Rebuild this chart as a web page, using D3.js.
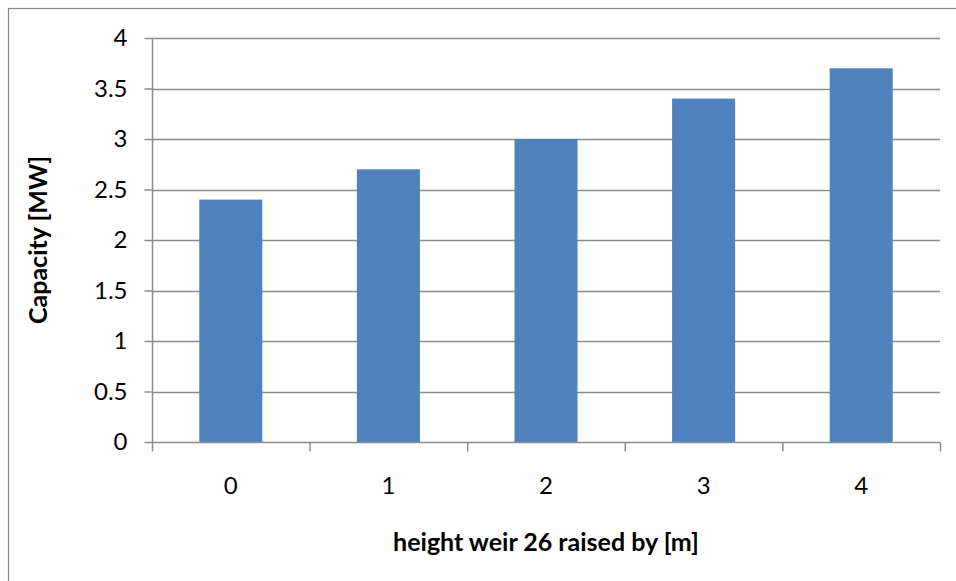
<!DOCTYPE html>
<html>
<head>
<meta charset="utf-8">
<script src="https://cdn.jsdelivr.net/npm/d3@7"></script>
<style>
  html, body { margin: 0; padding: 0; background: #fff; }
  svg { display: block; }
</style>
</head>
<body>
<svg id="chart" width="956" height="581"></svg>
<script>
// Weir height increase (m) and resulting capacity (MW)
const categories = ["0", "1", "2", "3", "4"];
const capacity = [2.4, 2.7, 3.0, 3.4, 3.7];
const yTicks = [0, 0.5, 1, 1.5, 2, 2.5, 3, 3.5, 4];

const svg = d3.select("#chart");
const W = 956, H = 581;
const m = { left: 152, right: 940, top: 38, bottom: 442 };
const font = "Lato, 'Open Sans', sans-serif";
const gridColor = "#8c8c8c";

// outer frame
svg.append("rect")
  .attr("x", 8.5).attr("y", 8.5)
  .attr("width", W).attr("height", H)
  .attr("fill", "none").attr("stroke", "#888").attr("stroke-width", 1.2);

const x = d3.scaleBand()
  .domain(categories)
  .range([m.left, m.right])
  .paddingInner(0.6)
  .paddingOuter(0.3);

const y = d3.scaleLinear().domain([0, 4]).range([m.bottom, m.top]);

// horizontal gridlines
svg.append("g")
  .selectAll("line")
  .data(yTicks.filter(d => d > 0))
  .join("line")
  .attr("x1", m.left).attr("x2", m.right)
  .attr("y1", d => Math.round(y(d)) + 0.5).attr("y2", d => Math.round(y(d)) + 0.5)
  .attr("stroke", gridColor).attr("stroke-width", 1.5);

// bars
svg.append("g")
  .selectAll("rect")
  .data(capacity)
  .join("rect")
  .attr("x", (d, i) => x(categories[i]))
  .attr("y", d => y(d))
  .attr("width", x.bandwidth())
  .attr("height", d => y(0) - y(d))
  .attr("fill", "#4f81bd");

// y axis
const yAxis = svg.append("g")
  .attr("transform", `translate(${m.left + 0.5},0)`)
  .call(d3.axisLeft(y).tickValues(yTicks).tickSize(8).tickPadding(17)
    .tickFormat(d3.format("~g")));
yAxis.select(".domain").attr("stroke", gridColor).attr("stroke-width", 1.5)
  .attr("d", `M0,${m.top}V${m.bottom}`);
yAxis.selectAll(".tick line").attr("stroke", gridColor).attr("stroke-width", 1.5);
yAxis.selectAll("text").attr("font-family", font).attr("font-size", 24).attr("fill", "#000");

// x axis with tick marks at category boundaries
const xAxisG = svg.append("g").attr("transform", `translate(0,${m.bottom + 0.5})`);
xAxisG.append("line")
  .attr("x1", m.left).attr("x2", m.right)
  .attr("stroke", gridColor).attr("stroke-width", 1.5);
const step = x.step();
xAxisG.selectAll(".bt")
  .data(d3.range(categories.length + 1))
  .join("line")
  .attr("class", "bt")
  .attr("x1", i => m.left + i * step + 0.5).attr("x2", i => m.left + i * step + 0.5)
  .attr("y1", 0).attr("y2", 9)
  .attr("stroke", gridColor).attr("stroke-width", 1.5);
xAxisG.selectAll("text")
  .data(categories)
  .join("text")
  .attr("x", d => x(d) + x.bandwidth() / 2)
  .attr("y", 51)
  .attr("text-anchor", "middle")
  .attr("font-family", font).attr("font-size", 24).attr("fill", "#000")
  .text(d => d);

// axis titles
svg.append("text")
  .attr("x", (m.left + m.right) / 2).attr("y", 551)
  .attr("text-anchor", "middle")
  .attr("font-family", font).attr("font-size", 25).attr("font-weight", "bold")
  .text("height weir 26 raised by [m]");

svg.append("text")
  .attr("transform", `translate(47,${(m.top + m.bottom) / 2}) rotate(-90)`)
  .attr("text-anchor", "middle")
  .attr("font-family", font).attr("font-size", 25).attr("font-weight", "bold")
  .text("Capacity [MW]");
</script>
</body>
</html>
